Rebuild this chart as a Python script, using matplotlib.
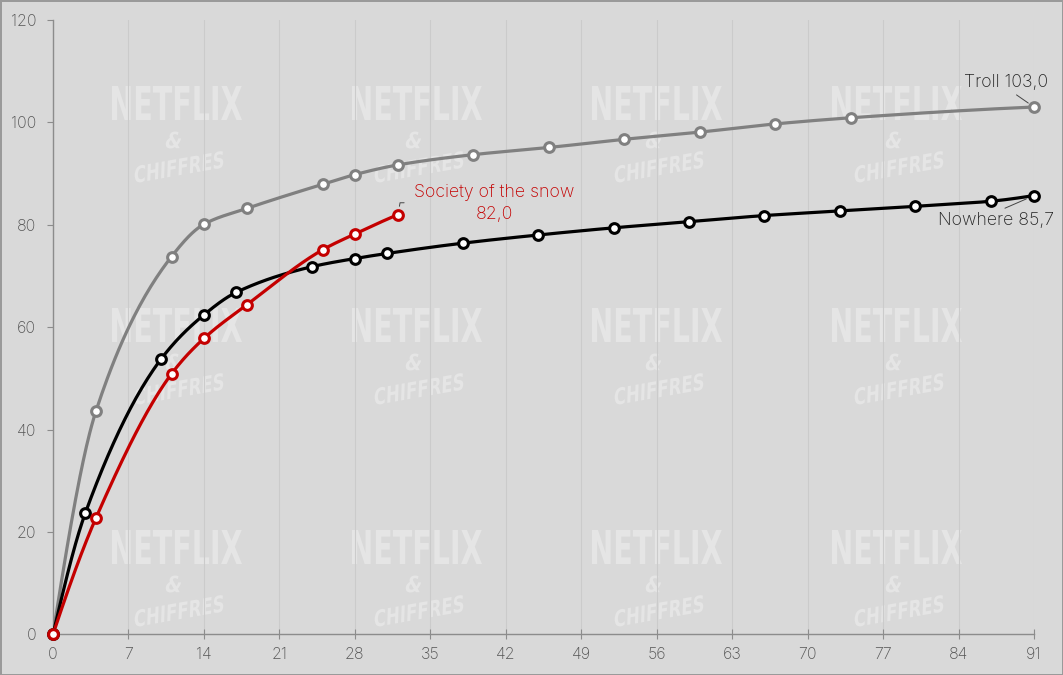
import numpy as np
import matplotlib
matplotlib.use("Agg")
import matplotlib.pyplot as plt
from matplotlib.textpath import TextPath
from matplotlib.patches import PathPatch
from matplotlib.font_manager import FontProperties
from matplotlib.transforms import Affine2D, IdentityTransform

# days since release / cumulative views (millions)
troll_days = [0, 4, 11, 14, 18, 25, 28, 32, 39, 46, 53, 60, 67, 74, 91]
troll_vals = [0, 43.7, 73.8, 80.1, 83.2, 87.9, 89.8, 91.7, 93.7, 95.1, 96.7, 98.1, 99.7, 100.9, 103.0]

nowhere_days = [0, 3, 10, 14, 17, 24, 28, 31, 38, 45, 52, 59, 66, 73, 80, 87, 91]
nowhere_vals = [0, 23.7, 53.7, 62.4, 66.8, 71.8, 73.4, 74.4, 76.4, 78.0, 79.4, 80.6, 81.8, 82.7, 83.6, 84.6, 85.7]

snow_days = [0, 4, 11, 14, 18, 25, 28, 32]
snow_vals = [0, 22.8, 50.9, 57.8, 64.4, 75.1, 78.2, 82.0]

x_ticks = list(range(0, 92, 7))
y_ticks = [0, 20, 40, 60, 80, 100, 120]

W, H = 1063, 675
BG = "#d9d9d9"
WM = "#e5e5e5"


def smooth(x, y, n=40):
    # monotone cubic (Fritsch-Carlson) just for drawing the curve
    x = np.asarray(x, float)
    y = np.asarray(y, float)
    h = np.diff(x)
    d = np.diff(y) / h
    m = np.zeros_like(y)
    for k in range(1, len(y) - 1):
        if d[k - 1] * d[k] > 0:
            w1 = 2 * h[k] + h[k - 1]
            w2 = h[k] + 2 * h[k - 1]
            m[k] = (w1 + w2) / (w1 / d[k - 1] + w2 / d[k])
    m[0] = ((2 * h[0] + h[1]) * d[0] - h[0] * d[1]) / (h[0] + h[1])
    if m[0] * d[0] <= 0:
        m[0] = 0
    elif abs(m[0]) > 3 * abs(d[0]):
        m[0] = 3 * d[0]
    m[-1] = ((2 * h[-1] + h[-2]) * d[-1] - h[-1] * d[-2]) / (h[-1] + h[-2])
    if m[-1] * d[-1] <= 0:
        m[-1] = 0
    elif abs(m[-1]) > 3 * abs(d[-1]):
        m[-1] = 3 * d[-1]
    xs, ys = [], []
    for k in range(len(h)):
        t = np.linspace(0, 1, n, endpoint=(k == len(h) - 1))
        h00 = 2 * t**3 - 3 * t**2 + 1
        h10 = t**3 - 2 * t**2 + t
        h01 = -2 * t**3 + 3 * t**2
        h11 = t**3 - t**2
        xs.append(x[k] + t * h[k])
        ys.append(h00 * y[k] + h10 * h[k] * m[k] + h01 * y[k + 1] + h11 * h[k] * m[k + 1])
    return np.concatenate(xs), np.concatenate(ys)


fig = plt.figure(figsize=(W / 100, H / 100), dpi=100)
fig.patch.set_facecolor(BG)
fig.patch.set_edgecolor("#9a9a9a")
fig.patch.set_linewidth(2)
ax = fig.add_axes([53 / W, 1 - 634.3 / H, 981 / W, 614.3 / H])
ax.set_facecolor(BG)
ax.set_axisbelow(True)

# watermark "NETFLIX & CHIFFRES"
wm_font = FontProperties(family="DejaVu Sans", weight="bold")


def watermark(text, cx, cy, w, h, rot=0, skew=0):
    tp = TextPath((0, 0), text, size=10, prop=wm_font)
    e = tp.get_extents()
    tr = (Affine2D().translate(-(e.x0 + e.x1) / 2, -(e.y0 + e.y1) / 2)
          .scale(w / e.width, h / e.height).skew_deg(skew, 0)
          .rotate_deg(rot).translate(cx, H - cy))
    p = PathPatch(tr.transform_path(tp), transform=IdentityTransform(),
                  facecolor=WM, edgecolor="none", zorder=0.2)
    ax.add_artist(p)


for col in range(4):
    for row in range(3):
        cx = 177 + 240 * col
        cy = 103 + 222 * row
        watermark("NETFLIX", cx, cy, 130, 34)
        watermark("&", cx - 3, cy + 37, 15, 17, skew=12)
        watermark("CHIFFRES", cx + 2, cy + 64, 90, 17, rot=10, skew=12)

series = [
    (troll_days, troll_vals, "#808080"),
    (nowhere_days, nowhere_vals, "#000000"),
    (snow_days, snow_vals, "#c40000"),
]
for days, vals, col in series:
    sx, sy = smooth(days, vals)
    ax.plot(sx, sy, color=col, lw=2.3, zorder=3, solid_capstyle="round")
    ax.plot(days, vals, ls="none", marker="o", ms=7, mew=2.2,
            mfc="white", mec=col, zorder=4, clip_on=False)

lab_font = "Inter"
ax.annotate("Troll 103,0", xy=(troll_days[-1], troll_vals[-1]),
            xytext=(-28, 25), textcoords="offset pixels",
            ha="center", va="center", fontsize=12.8, color="#222222",
            family=lab_font, weight="light",
            arrowprops=dict(arrowstyle="-", color="#444444", lw=0.7,
                            shrinkA=2, shrinkB=5, relpos=(0.55, 0)))
ax.annotate("Nowhere 85,7", xy=(nowhere_days[-1], nowhere_vals[-1]),
            xytext=(-38, -25), textcoords="offset pixels",
            ha="center", va="center", fontsize=12.8, color="#222222",
            family=lab_font, weight="light",
            arrowprops=dict(arrowstyle="-", color="#444444", lw=0.7,
                            shrinkA=2, shrinkB=6, relpos=(0.5, 1)))
ax.annotate("Society of the snow\n82,0", xy=(snow_days[-1], snow_vals[-1]),
            xytext=(96, 11), textcoords="offset pixels",
            ha="center", va="center", fontsize=12.8, color="#c40000",
            family=lab_font, weight="light", linespacing=1.32,
            arrowprops=dict(arrowstyle="-", color="#444444", lw=0.7,
                            shrinkA=5, shrinkB=6, relpos=(0, 0.52),
                            connectionstyle="angle,angleA=0,angleB=80,rad=0"))

ax.set_xlim(0, 91)
ax.set_ylim(0, 120)
ax.set_xticks(x_ticks)
ax.set_yticks(y_ticks)
ax.grid(axis="x", color="#cbcbcb", lw=0.8)
for s in ["top", "right"]:
    ax.spines[s].set_visible(False)
for s in ["left", "bottom"]:
    ax.spines[s].set_color("#8c8c8c")
    ax.spines[s].set_linewidth(1)
ax.tick_params(axis="x", direction="inout", length=7, width=0.8, color="#8c8c8c",
               labelcolor="#555555", labelsize=11.5, pad=6)
ax.tick_params(axis="y", direction="out", length=4, width=0.8, color="#8c8c8c",
               labelcolor="#555555", labelsize=11.5, pad=8)
for lbl in ax.get_xticklabels() + ax.get_yticklabels():
    lbl.set_family(lab_font)
    lbl.set_weight("light")

fig.savefig("out.png", dpi=100, facecolor=fig.get_facecolor(),
            edgecolor=fig.get_edgecolor())
